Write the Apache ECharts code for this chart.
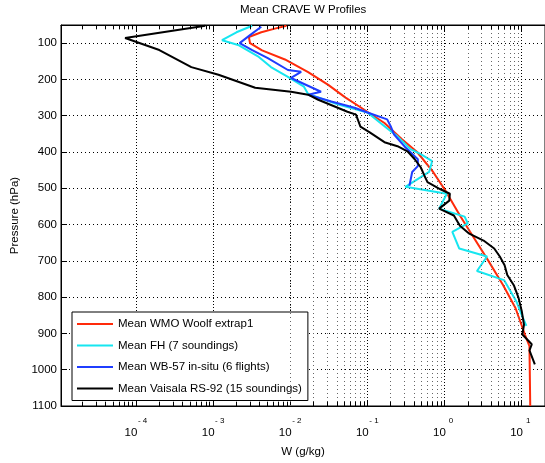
<!DOCTYPE html>
<html lang="en">
<head>
<meta charset="UTF-8">
<title>Mean CRAVE W Profiles</title>
<script src="https://cdn.jsdelivr.net/npm/echarts@6/dist/echarts.min.js"></script>
</head>
<body style="margin:0;background:#fff">
<div id="main" style="width:545px;height:463px;"></div>
<script>
// pressure (hPa) and water vapour mixing ratio W (g/kg) for each mean profile
const wmoP = [52, 60, 70, 83, 100, 120, 145, 180, 215, 250, 278, 320, 365, 400, 455, 510, 575, 620, 700, 767, 830, 903, 935, 1100];
const wmoW = [0.0089, 0.0063, 0.0042, 0.0029, 0.0030, 0.0043, 0.0085, 0.017, 0.031, 0.052, 0.083, 0.166, 0.28, 0.44, 0.71, 1.05, 1.58, 2.14, 3.7, 5.75, 8.3, 11.0, 12.6, 12.9];

const fhP = [52, 70, 92, 105, 138, 166, 193, 220, 240, 269, 291, 329, 357, 392, 406, 425, 455, 496, 515, 556, 578, 597, 620, 666, 688, 728, 753, 811, 849, 879];
const fhW = [0.0032, 0.0020, 0.0013, 0.0021, 0.0039, 0.0056, 0.0093, 0.015, 0.017, 0.042, 0.10, 0.166, 0.245, 0.36, 0.49, 0.69, 0.63, 0.31, 1.07, 0.85, 1.82, 2.0, 1.26, 1.55, 3.55, 2.63, 5.9, 8.5, 10.0, 11.5];

const wbP = [55, 78, 100, 119, 141, 174, 179, 196, 234, 242, 261, 278, 291, 310, 329, 351, 384, 420, 439, 455, 493];
const wbW = [0.0042, 0.0030, 0.0022, 0.0032, 0.0051, 0.0093, 0.0138, 0.0102, 0.025, 0.017, 0.034, 0.068, 0.10, 0.18, 0.20, 0.22, 0.30, 0.45, 0.45, 0.38, 0.35];

const rsP = [52, 86, 119, 166, 187, 223, 234, 242, 256, 289, 297, 330, 346, 373, 384, 398, 420, 442, 466, 483, 502, 515, 534, 556, 575, 603, 625, 644, 666, 688, 712, 739, 767, 802, 838, 876, 903, 930, 947, 985];
const rsW = [0.00079, 0.000072, 0.00020, 0.00052, 0.00117, 0.0035, 0.0102, 0.017, 0.023, 0.055, 0.071, 0.081, 0.107, 0.166, 0.245, 0.33, 0.41, 0.49, 0.55, 0.60, 0.87, 1.17, 1.15, 0.85, 1.32, 1.58, 2.09, 3.2, 4.4, 5.2, 6.0, 6.5, 7.9, 9.1, 10.0, 10.7, 10.2, 13.5, 12.6, 14.8];

const seriesNames = ['Mean WMO Woolf extrap1', 'Mean FH (7 soundings)', 'Mean WB-57 in-situ (6 flights)', 'Mean Vaisala RS-92 (15 soundings)'];
const seriesColors = ['#ff2a0a', '#16e6f0', '#1f3dff', '#000000'];
const decades = [-5, -4, -3, -2, -1, 0, 1];

const xMin = Math.pow(10, -4.974);
const xMax = Math.pow(10, 1.302);
const pTop = 50, pBottom = 1100;
const font = "'Liberation Sans', Arial, sans-serif";

function pairs(w, p) {
    return w.map((v, i) => [v, p[i]]);
}

// minor log grid lines (2..9 per decade) and the little inward ticks on top/bottom
const minorGrid = [];
decades.forEach(d => {
    for (let k = 2; k <= 9; k++) {
        const v = k * Math.pow(10, d);
        if (v <= xMin || v >= xMax) continue;
        minorGrid.push({ xAxis: v });
        minorGrid.push([{ coord: [v, pBottom], lineStyle: { type: 'solid', color: '#000' } }, { coord: [v, pBottom - 12] }]);
        minorGrid.push([{ coord: [v, pTop], lineStyle: { type: 'solid', color: '#000' } }, { coord: [v, pTop + 12] }]);
    }
});

function expLabel(value) {
    const e = Math.round(Math.log10(value));
    return '{s|}{e|' + (e < 0 ? '- ' + (-e) : e) + '}\n{t|10}{s2|}';
}

const xLabelRich = {
    s: { width: 13, height: 10, lineHeight: 10 },
    e: { width: 10, align: 'left', fontSize: 8, lineHeight: 10, fontFamily: font, color: '#000' },
    t: { width: 13, align: 'left', fontSize: 11.5, lineHeight: 13, fontFamily: font, color: '#000' },
    s2: { width: 10, height: 13, lineHeight: 13 }
};

const lines = [[wmoW, wmoP], [fhW, fhP], [wbW, wbP], [rsW, rsP]].map((d, i) => ({
    name: seriesNames[i],
    type: 'line',
    data: pairs(d[0], d[1]),
    color: seriesColors[i],
    symbol: 'none',
    z: 3 + i,
    lineStyle: { color: seriesColors[i], width: 2 },
    animation: false
}));

let myChart = echarts.init(document.getElementById('main'));

myChart.setOption({
    backgroundColor: '#fff',
    textStyle: { fontFamily: font },
    title: {
        text: 'Mean CRAVE W Profiles',
        left: 240, top: 4, padding: 0,
        textStyle: { fontSize: 11.5, fontWeight: 'normal', color: '#000', fontFamily: font }
    },
    grid: {
        left: 61, top: 25, right: -3, bottom: 54,
        show: true, borderColor: '#000', borderWidth: 1, backgroundColor: '#fff'
    },
    legend: {
        data: seriesNames,
        orient: 'vertical',
        left: 72, top: 312,
        padding: [5, 6, 5, 5],
        itemGap: 7.5,
        itemWidth: 36, itemHeight: 2,
        icon: 'rect',
        borderColor: '#000', borderWidth: 1,
        backgroundColor: '#fff',
        textStyle: { fontSize: 11.5, lineHeight: 14, color: '#000', fontFamily: font }
    },
    xAxis: [{
        type: 'log', logBase: 10,
        min: xMin, max: xMax,
        name: 'W (g/kg)', nameLocation: 'middle', nameGap: 40,
        nameTextStyle: { fontSize: 11.5, color: '#000', fontFamily: font },
        axisLine: { lineStyle: { color: '#000' } },
        axisTick: { inside: true, length: 6, lineStyle: { color: '#000' } },
        axisLabel: { showMinLabel: false, showMaxLabel: false, margin: 10, formatter: expLabel, rich: xLabelRich },
        splitLine: { show: true, lineStyle: { color: '#000', type: [1, 2], width: 1 } }
    }, {
        type: 'log', logBase: 10, position: 'top',
        min: xMin, max: xMax,
        axisLine: { lineStyle: { color: '#000' } },
        axisTick: { inside: true, length: 6, lineStyle: { color: '#000' } },
        axisLabel: { show: false },
        splitLine: { show: false }
    }],
    yAxis: {
        type: 'value', inverse: true,
        min: pTop, max: pBottom,
        splitNumber: 10, minInterval: 100, maxInterval: 100,
        name: 'Pressure (hPa)', nameLocation: 'middle', nameGap: 33,
        nameTextStyle: { fontSize: 11.5, color: '#000', fontFamily: font },
        axisLine: { lineStyle: { color: '#000' } },
        axisTick: { inside: true, length: 6, lineStyle: { color: '#000' } },
        axisLabel: {
            showMinLabel: false, margin: 4, fontSize: 11.5, color: '#000', fontFamily: font,
            formatter: v => String(v)
        },
        splitLine: { show: true, lineStyle: { color: '#000', type: [1, 3], width: 1 } }
    },
    series: [{
        type: 'line',
        data: [],
        z: 1,
        silent: true,
        animation: false,
        markLine: {
            silent: true,
            animation: false,
            symbol: ['none', 'none'],
            label: { show: false },
            lineStyle: { color: '#666', type: [1, 3], width: 1 },
            emphasis: { disabled: true },
            data: minorGrid
        }
    }].concat(lines)
});
</script>
</body>
</html>
